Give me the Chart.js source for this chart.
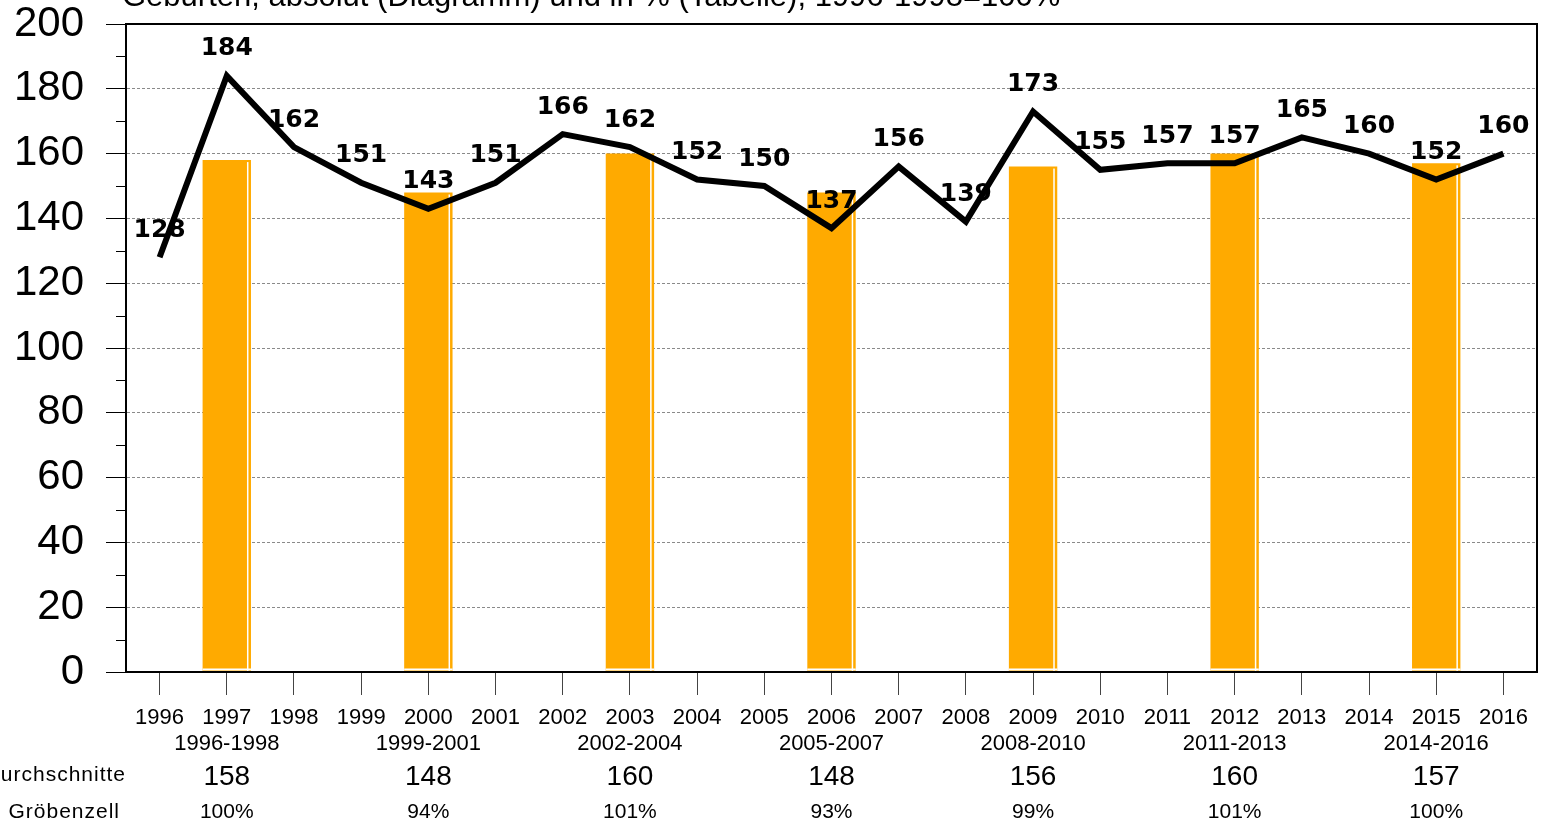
<!DOCTYPE html>
<html>
<head>
<meta charset="utf-8">
<script src="https://cdn.jsdelivr.net/npm/chart.js@4/dist/chart.umd.min.js"></script>
<style>
  html, body { margin: 0; padding: 0; background: #fff; overflow: hidden; }
  #c { display: block; }
</style>
</head>
<body>
<canvas id="c" width="1541" height="823"></canvas>
<script>
// Daten
const title = 'Geburten, absolut (Diagramm) und in % (Tabelle), 1996-1998=100%';
const years = ['1996', '1997', '1998', '1999', '2000', '2001', '2002', '2003', '2004', '2005', '2006',
               '2007', '2008', '2009', '2010', '2011', '2012', '2013', '2014', '2015', '2016'];
const births = [128, 184, 162, 151, 143, 151, 166, 162, 152, 150, 137, 156, 139, 173, 155, 157, 157, 165, 160, 152, 160];
const periods = ['1996-1998', '1999-2001', '2002-2004', '2005-2007', '2008-2010', '2011-2013', '2014-2016'];
const averages = [158, 148, 160, 148, 156, 160, 157];
const shares = ['100%', '94%', '101%', '93%', '99%', '101%', '100%'];
const rowLabels = ['Durchschnitte', 'Gröbenzell'];
const yTicks = [0, 20, 40, 60, 80, 100, 120, 140, 160, 180, 200];

// Balken in der Mitte jedes Drei-Jahres-Zeitraums
const middleYears = periods.map(p => String(+p.slice(0, 4) + 1));
const barValues = years.map(y => {
    const i = middleYears.indexOf(y);
    return i >= 0 ? averages[i] : null;
});

const FONT = "'Liberation Sans', Arial, sans-serif";

// weiße Lichtkante in den Balken
const barShine = {
    id: 'barShine',
    afterDatasetDraw(chart, args) {
        if (args.index !== 1) return;
        const ctx = chart.ctx;
        ctx.save();
        ctx.fillStyle = '#fff';
        args.meta.data.forEach((bar, i) => {
            if (barValues[i] == null) return;
            const right = bar.x + bar.width / 2;
            const left = bar.x - bar.width / 2;
            ctx.fillRect(right - 4, bar.y + 2, 1.5, bar.base - bar.y - 2);
            ctx.fillRect(left, bar.base - 3, bar.width, 2);
        });
        ctx.restore();
    }
};

// Rahmen, Nebenstriche, Werte, Titel und Tabelle
const extras = {
    id: 'extras',
    afterDatasetsDraw(chart) {
        const ctx = chart.ctx;
        const area = chart.chartArea;
        const xs = chart.scales.x;
        const ys = chart.scales.y;
        ctx.save();

        // Zwischenstriche an der y-Achse
        ctx.strokeStyle = '#000';
        ctx.lineWidth = 1;
        for (let i = 0; i < yTicks.length - 1; i++) {
            const y = Math.round(ys.getPixelForValue((yTicks[i] + yTicks[i + 1]) / 2)) + 0.5;
            ctx.beginPath();
            ctx.moveTo(area.left - 10, y);
            ctx.lineTo(area.left, y);
            ctx.stroke();
        }

        // Rahmen
        ctx.lineWidth = 2;
        ctx.strokeRect(area.left, area.top, area.right - area.left, area.bottom - area.top);

        // Werte über der Linie
        const meta = chart.getDatasetMeta(0);
        ctx.fillStyle = '#000';
        ctx.font = "bold 25px 'DejaVu Sans', Verdana, sans-serif";
        ctx.textAlign = 'center';
        ctx.textBaseline = 'middle';
        meta.data.forEach((pt, i) => {
            ctx.fillText(String(births[i]), pt.x, pt.y - 27);
        });

        // Titel (oben angeschnitten)
        ctx.font = '31px ' + FONT;
        ctx.textAlign = 'left';
        ctx.textBaseline = 'alphabetic';
        ctx.fillText(title, 122, 6);

        // Tabelle unter der x-Achse
        ctx.textAlign = 'center';
        ctx.textBaseline = 'middle';
        periods.forEach((p, i) => {
            const x = xs.getPixelForValue(years.indexOf(middleYears[i]));
            ctx.font = '22px ' + FONT;
            ctx.fillText(p, x, 744);
            ctx.font = '28px ' + FONT;
            ctx.fillText(String(averages[i]), x, 777);
            ctx.font = '21px ' + FONT;
            ctx.fillText(shares[i], x, 812);
        });

        ctx.textAlign = 'right';
        ctx.font = '21px ' + FONT;
        ctx.letterSpacing = '1px';
        ctx.fillText(rowLabels[0], 126, 775);
        ctx.fillText(rowLabels[1], 120, 812);
        ctx.restore();
    }
};

new Chart(document.getElementById('c'), {
    type: 'bar',
    data: {
        labels: years,
        datasets: [
            {
                type: 'line',
                label: 'Geburten',
                data: births,
                borderColor: '#000',
                borderWidth: 6,
                pointRadius: 0,
                tension: 0,
                order: 0
            },
            {
                type: 'bar',
                label: 'Durchschnitt',
                data: barValues,
                backgroundColor: '#FFAA00',
                barPercentage: 0.72,
                categoryPercentage: 1,
                order: 1
            }
        ]
    },
    options: {
        responsive: false,
        animation: false,
        devicePixelRatio: 1,
        layout: { padding: { top: 24, right: 4, left: 0, bottom: 0 } },
        plugins: {
            legend: { display: false },
            tooltip: { enabled: false }
        },
        scales: {
            x: {
                offset: true,
                grid: {
                    offset: false,
                    drawOnChartArea: false,
                    tickLength: 23,
                    tickColor: '#444',
                    tickWidth: 1
                },
                border: { color: '#000', width: 2 },
                ticks: {
                    color: '#000',
                    font: { family: FONT, size: 22 },
                    padding: 10,
                    maxRotation: 0,
                    autoSkip: false
                },
                afterFit(scale) {
                    scale.height = 151;
                    scale.paddingLeft = 0;
                    scale.paddingRight = 0;
                }
            },
            y: {
                min: 0,
                max: 200,
                afterBuildTicks(scale) { scale.ticks = yTicks.map(v => ({ value: v })); },
                ticks: {
                    color: '#000',
                    font: { family: FONT, size: 42 },
                    padding: 22
                },
                grid: {
                    color: c => (c.tick && (c.tick.value === 0 || c.tick.value === 200)) ? 'rgba(0,0,0,0)' : '#8a8a8a',
                    lineWidth: 1,
                    tickLength: 20,
                    tickColor: '#000',
                    tickWidth: 1,
                    tickBorderDash: []
                },
                border: { display: true, color: '#000', width: 2, dash: [3, 2] },
                afterFit(scale) {
                    scale.width = 126;
                    scale.paddingTop = 0;
                    scale.paddingBottom = 0;
                }
            }
        }
    },
    plugins: [barShine, extras]
});
</script>
</body>
</html>
